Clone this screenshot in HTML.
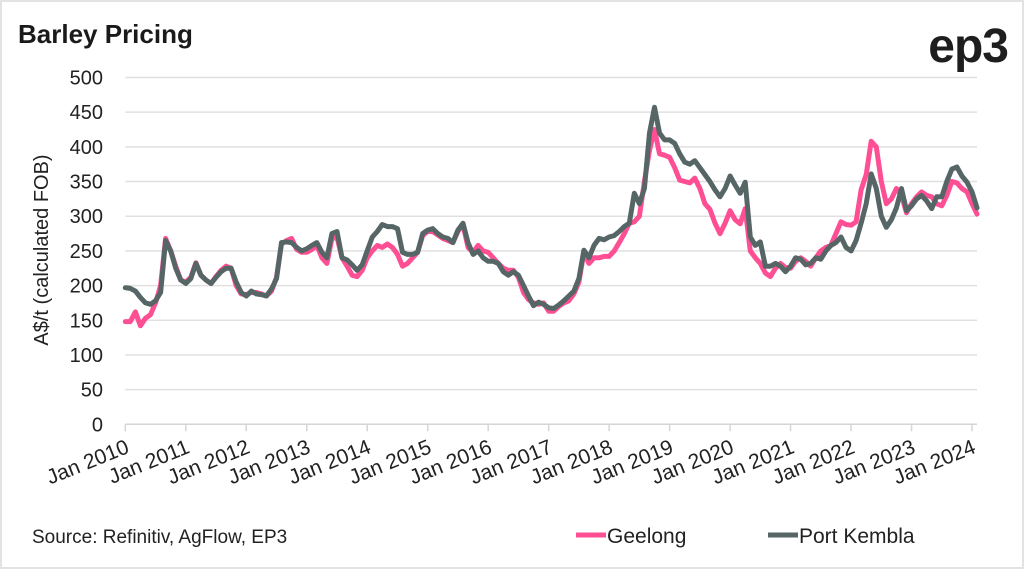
<!DOCTYPE html>
<html><head><meta charset="utf-8"><style>
html,body{margin:0;padding:0;background:#fff;}
#wrap{position:relative;width:1024px;height:569px;overflow:hidden;box-sizing:border-box;border:2px solid #e3e3e3;background:#fff;font-family:"Liberation Sans",sans-serif;}
</style></head><body>
<div id="wrap">
<svg id="chart" width="1024" height="569" style="position:absolute;left:-2px;top:-2px">
<text x="18" y="43" font-size="26" font-weight="bold" fill="#1a1a1a">Barley Pricing</text>
<text x="1008" y="62" text-anchor="end" font-size="48" font-weight="bold" fill="#1e1e1e" letter-spacing="-1">ep3</text>
<g id="grid"></g><g id="yticks"></g><g id="xticks"></g><g id="series"></g>
<text transform="translate(48,250) rotate(-90)" text-anchor="middle" font-size="20" fill="#222">A$/t (calculated FOB)</text>
<text x="32" y="543" font-size="19" fill="#222">Source: Refinitiv, AgFlow, EP3</text>
<g><line x1="576" y1="535" x2="606" y2="535" stroke="#ff4f94" stroke-width="5"/><text x="607" y="543" font-size="21" fill="#222">Geelong</text></g>
<g><line x1="768" y1="535" x2="798" y2="535" stroke="#566565" stroke-width="5"/><text x="799" y="543" font-size="21" fill="#222">Port Kembla</text></g>
</svg>
</div>
<script>
const yTicks=[0,50,100,150,200,250,300,350,400,450,500];
const xLabels=["Jan 2010","Jan 2011","Jan 2012","Jan 2013","Jan 2014","Jan 2015","Jan 2016","Jan 2017","Jan 2018","Jan 2019","Jan 2020","Jan 2021","Jan 2022","Jan 2023","Jan 2024"];
const geelong=[148,148,162,142,153,158,175,200,268,250,228,208,
205,212,233,215,208,203,213,222,228,225,200,188,
187,190,190,188,185,192,212,260,265,268,252,248,
248,252,258,240,232,268,270,240,228,215,213,222,
240,250,258,255,260,255,245,228,232,240,248,272,
278,278,273,268,265,262,278,288,255,248,258,250,
248,240,232,225,222,222,212,190,180,175,173,175,
163,163,170,175,178,188,205,248,232,240,240,242,
242,250,262,275,290,292,300,350,395,425,390,388,
385,370,352,350,348,355,340,318,310,290,275,290,
308,295,289,311,250,240,232,218,213,225,232,226,
225,235,240,235,228,240,250,255,258,275,292,288,
287,292,338,360,408,400,350,318,325,340,330,305,
318,328,335,330,328,318,315,330,350,348,340,335,
318,303];
const portKembla=[197,196,192,183,175,173,178,190,265,250,225,208,
203,210,232,215,208,203,212,220,225,225,205,190,
185,192,188,187,185,195,210,262,263,262,255,250,
253,258,262,248,240,275,278,240,237,230,222,230,
250,270,278,288,285,285,282,248,245,245,248,275,
280,282,275,270,268,262,280,290,262,245,250,240,
235,235,232,220,215,220,215,200,185,171,176,173,
168,167,172,178,185,192,210,251,240,258,268,266,
270,272,278,285,290,333,318,340,420,457,420,410,
410,405,390,378,375,380,370,360,350,338,328,340,
358,345,333,349,270,258,263,228,228,232,228,220,
228,240,238,230,232,240,238,250,258,262,270,255,
250,265,290,318,361,340,300,284,295,312,340,308,
315,325,330,322,311,328,328,350,368,371,358,349,
335,312];
const X0=125.3,PX_PER_MONTH=60.48/12,Y0=424.3,PX_PER_UNIT=346.8/500,XR=977;
const NS="http://www.w3.org/2000/svg";
const xs=m=>X0+m*PX_PER_MONTH, ys=v=>Y0-v*PX_PER_UNIT;
function mk(t,a,p){const e=document.createElementNS(NS,t);for(const k in a)e.setAttribute(k,a[k]);p.appendChild(e);return e;}
const g=document.getElementById('grid'),yt=document.getElementById('yticks'),xt=document.getElementById('xticks'),sg=document.getElementById('series');
yTicks.forEach(v=>{
 if(v>0){const l=mk('line',{x1:X0,x2:XR,y1:ys(v),y2:ys(v),stroke:'#e0e0e0','stroke-width':1.5},g);
 
 }
 const t=mk('text',{x:103,y:ys(v)+7,'text-anchor':'end','font-size':20,fill:'#222'},yt);t.textContent=v;
 
 
});
const ax=mk('line',{x1:X0,x2:XR,y1:Y0,y2:Y0,stroke:'#d6d6d6','stroke-width':1.5},g);


xLabels.forEach((s,i)=>{
 const x=xs(i*12);
 const tk=mk('line',{x1:x,x2:x,y1:Y0,y2:Y0+7,stroke:'#d6d6d6','stroke-width':1.5},g);
 
 
 const t=mk('text',{transform:`translate(${x+5},${Y0+28}) rotate(-22)`,'text-anchor':'end','font-size':21,fill:'#222'},xt);t.textContent=s;
 
 
});
function draw(arr,col,name){
 const d=arr.map((v,i)=>(i?'L':'M')+Math.min(xs(i),XR).toFixed(1)+' '+ys(v).toFixed(1)).join(' ');
 const p=mk('path',{d:d,fill:'none',stroke:col,'stroke-width':5,'stroke-linejoin':'round','stroke-linecap':'round'},sg);
 
 
}
draw(geelong,'#ff4f94','geelong-line');
draw(portKembla,'#566565','port-kembla-line');
</script>
</body></html>
